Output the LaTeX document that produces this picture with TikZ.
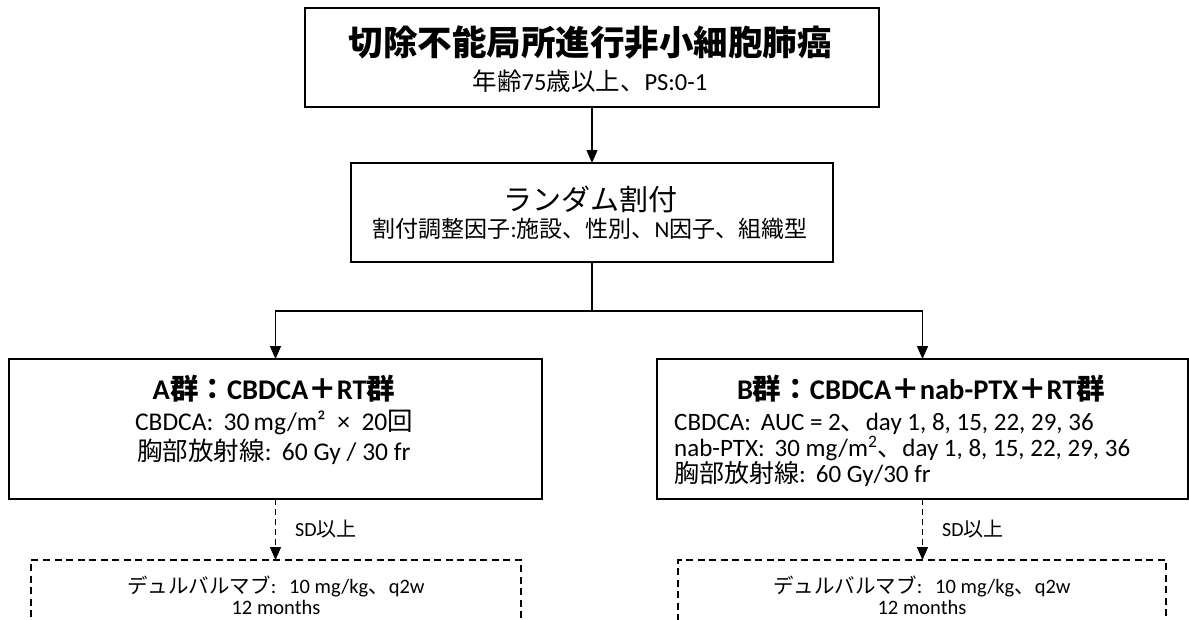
\documentclass[tikz,border=0pt]{standalone}
\usepackage{fontspec}
\setmainfont{Carlito}
\newfontfamily\jpfont{Noto Sans CJK JP}
\usetikzlibrary{arrows.meta}
\newcommand\jtxt[1]{{\jpfont #1}}
\newcommand\jbold[1]{{\jpfont\bfseries #1}}
\newcommand\colsp{:\hspace{0.4em}}
\begin{document}
\begin{tikzpicture}[x=1pt,y=-1pt,
  box/.style={draw=black, line width=1.5pt, inner sep=0pt, outer sep=0pt},
  dbox/.style={draw=black, line width=1.3pt, dash pattern=on 7pt off 4.5pt, inner sep=0pt, outer sep=0pt},
  txt/.style={inner sep=0pt, align=center},
  arr/.style={line width=1.3pt, -{Triangle[length=13pt,width=11pt]}},
  darr/.style={arr, dash pattern=on 6pt off 4pt},
  conn/.style={line width=1.3pt}]
\useasboundingbox (0,0) rectangle (1189,619);
\clip (0,0) rectangle (1189,619);
\fill[white] (0,0) rectangle (1189,619);

% top box
\node[box, minimum width=574pt, minimum height=99pt] (top) at (592,57.5) {};
\node[txt, font=\fontsize{34.5}{40}\selectfont] (toptitle) at (590,42) {\jbold{切除不能局所進行非小細胞肺癌}};
\node[txt, font=\fontsize{24.5}{28}\selectfont] (topsub) at (590,81) {\jtxt{年齢}75\jtxt{歳以上、}PS:0-1};

% randomisation box
\node[box, minimum width=482pt, minimum height=99pt] (rand) at (592,212.5) {};
\node[txt, font=\fontsize{29}{33}\selectfont] (randtitle) at (590,199) {\jtxt{ランダム割付}};
\node[txt, font=\fontsize{23}{27}\selectfont] (randsub) at (590,229) {\jtxt{割付調整因子}:\jtxt{施設、性別、}N\jtxt{因子、組織型}};

% arm A
\node[box, minimum width=533pt, minimum height=140pt] (A) at (275.5,429) {};
\node[txt, font=\fontsize{28.5}{32}\selectfont\bfseries] (Atitle) at (274,389) {A\jbold{群：}CBDCA\jbold{＋}RT\jbold{群}};
\node[txt, font=\fontsize{25.5}{30}\selectfont] (Aline2) at (274,422) {CBDCA\colsp 30\,mg/m²\ \ ×\ \ 20\jtxt{回}};
\node[txt, font=\fontsize{25.5}{30}\selectfont] (Aline3) at (274,452) {\jtxt{胸部放射線}\colsp 60 Gy / 30 fr};

% arm B
\node[box, minimum width=531pt, minimum height=140pt] (B) at (922.5,429) {};
\node[txt, font=\fontsize{28.5}{32}\selectfont\bfseries] (Btitle) at (921,389) {B\jbold{群：}CBDCA\jbold{＋}nab-PTX\jbold{＋}RT\jbold{群}};
\node[inner sep=0pt, align=left, anchor=west, font=\fontsize{25}{26}\selectfont] (Blines) at (674,450) {CBDCA\colsp AUC = 2\jtxt{、}day 1, 8, 15, 22, 29, 36\\
nab-PTX\colsp 30 mg/m\textsuperscript{2}\jtxt{、}day 1, 8, 15, 22, 29, 36\\
\jtxt{胸部放射線}\colsp 60 Gy/30 fr};

% maintenance boxes
\node[dbox, minimum width=490pt, minimum height=120pt, anchor=north] (Ad) at (276,560) {};
\node[txt, font=\fontsize{20.5}{21}\selectfont] (Adtext) at (276,595) {\jtxt{デュルバルマブ}\colsp\ 10 mg/kg\jtxt{、}q2w\\12 months};
\node[dbox, minimum width=488pt, minimum height=120pt, anchor=north] (Bd) at (922,560) {};
\node[txt, font=\fontsize{20.5}{21}\selectfont] (Bdtext) at (922,595) {\jtxt{デュルバルマブ}\colsp\ 10 mg/kg\jtxt{、}q2w\\12 months};

% connectors
\coordinate (split) at (592,311);
\draw[arr] (top.south) -- (rand.north);
\draw[conn] (rand.south) -- (split);
\draw[arr] (split) -| (A.north);
\draw[arr] (split) -| (B.north);
\draw[darr] (A.south) -- (A.south |- Ad.north) node[midway, anchor=west, xshift=19pt, inner sep=0pt, font=\fontsize{20}{22}\selectfont] (Asd) {SD\jtxt{以上}};
\draw[darr] (B.south) -- (B.south |- Bd.north) node[midway, anchor=west, xshift=19pt, inner sep=0pt, font=\fontsize{20}{22}\selectfont] (Bsd) {SD\jtxt{以上}};
\end{tikzpicture}
\end{document}
